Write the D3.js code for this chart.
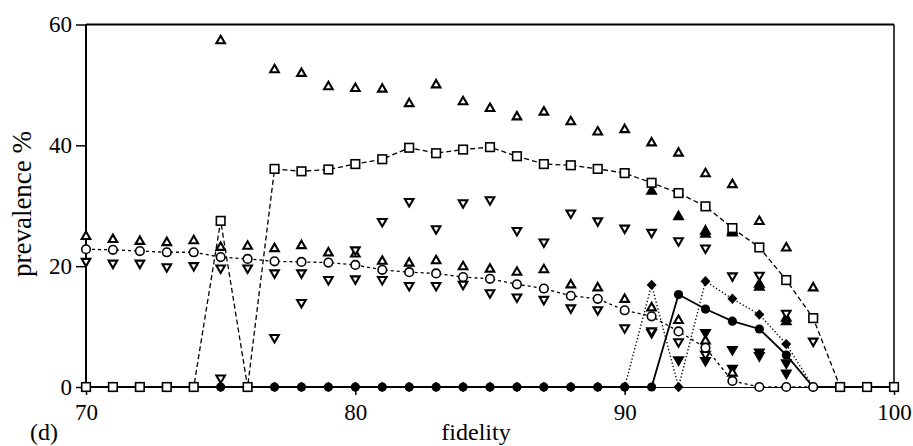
<!DOCTYPE html>
<html>
<head>
<meta charset="utf-8">
<script src="https://cdn.jsdelivr.net/npm/d3@7"></script>
<style>
  body { margin: 0; background: #fff; }
  svg { display: block; }
</style>
</head>
<body>
<svg id="chart"></svg>
<script>
// fidelity values along the x axis
var fidelity = [70,71,72,73,74,75,76,77,78,79,80,81,82,83,84,85,86,87,88,89,90,91,92,93,94,95,96,97,98,99,100];

// open squares, dashed line, with open triangle bounds
var squareMean = [0,0,0,0,0,27.5,0,36.1,35.7,36.0,36.9,37.7,39.6,38.7,39.3,39.7,38.2,36.9,36.7,36.1,35.4,33.8,32.1,29.9,26.3,23.1,17.7,11.4,0,0,0];
var squareHi   = [null,null,null,null,null,57.3,null,52.5,51.9,49.7,49.4,49.3,46.9,50.0,47.2,46.1,44.7,45.5,43.9,42.2,42.6,40.4,38.7,35.3,33.5,27.4,23.0,16.4,null,null,null];
var squareLo   = [null,null,null,null,null,1.5,null,8.2,14.0,null,22.7,27.4,30.7,26.2,30.5,31.0,25.9,24.0,28.8,27.5,26.3,25.6,24.2,23.0,18.4,18.5,12.2,7.6,null,null,null];

// open circles, fine dashed line, with open triangle bounds
var circleMean = [22.8,22.7,22.5,22.3,22.3,21.5,21.2,20.8,20.7,20.6,20.2,19.4,19.0,18.8,18.2,17.9,17.0,16.3,15.1,14.6,12.7,11.7,9.2,6.5,1.0,0,0,0,0,0,0];
var circleHi   = [24.9,24.4,24.1,23.9,24.2,23.1,23.3,22.9,23.4,22.2,22.0,20.8,20.5,20.9,19.9,19.5,19.0,19.4,16.9,16.4,14.5,13.1,11.0,7.6,2.3,null,null,null,null,null,null];
var circleLo   = [20.8,20.5,20.5,19.9,20.1,19.7,19.7,18.9,18.9,17.8,17.9,17.8,16.8,16.8,17.0,15.6,14.9,14.5,13.1,12.8,9.8,9.3,7.5,5.4,null,null,null,null,null,null,null];

// filled diamonds, dotted line, with filled triangle bounds
var diamondMean = [0,0,0,0,0,0,0,0,0,0,0,0,0,0,0,0,0,0,0,0,0,16.9,0,17.5,14.6,12.0,7.1,0,0,0,0];
var diamondHi   = [null,null,null,null,null,null,null,null,null,null,null,null,null,null,null,null,null,null,null,null,null,32.4,null,25.8,25.8,17.0,11.4,null,null,null,null];
var diamondLo   = [null,null,null,null,null,null,null,null,null,null,null,null,null,null,null,null,null,null,null,null,null,9.0,null,9.0,6.2,5.8,4.0,null,null,null,null];

// filled circles, solid line, with filled triangle bounds
var dotMean = [0,0,0,0,0,0,0,0,0,0,0,0,0,0,0,0,0,0,0,0,0,0,15.3,12.9,10.9,9.6,5.3,0,0,0,0];
var dotHi   = [null,null,null,null,null,null,null,null,null,null,null,null,null,null,null,null,null,null,null,null,null,null,28.2,25.3,25.5,16.5,10.8,null,null,null,null];
var dotLo   = [null,null,null,null,null,null,null,null,null,null,null,null,null,null,null,null,null,null,null,null,null,null,4.5,4.4,3.1,5.2,2.3,null,null,null,null];

var yTicks = [0, 20, 40, 60];
var xTicks = [70, 80, 90, 100];

var margin = {top: 24.5, right: 19, bottom: 59, left: 86},
    width = 913 - margin.left - margin.right,
    height = 446 - margin.top - margin.bottom;

var x = d3.scaleLinear().domain([70, 100]).range([0, width]);
var y = d3.scaleLinear().domain([0, 60]).range([height, 0]);

var svg = d3.select("#chart")
    .attr("width", 913)
    .attr("height", 446)
    .append("g")
    .attr("transform", "translate(" + margin.left + "," + margin.top + ")");

var serif = "'Liberation Serif', 'Times New Roman', serif";

// frame: top and right border
svg.append("line").attr("x1", 0).attr("x2", width).attr("y1", 0).attr("y2", 0)
    .attr("stroke", "#000").attr("stroke-width", 2);
svg.append("line").attr("x1", width).attr("x2", width).attr("y1", 0).attr("y2", height)
    .attr("stroke", "#000").attr("stroke-width", 1.5);

// x axis
var xAxis = svg.append("g")
    .attr("transform", "translate(0," + height + ")")
    .call(d3.axisBottom(x).tickValues(xTicks).tickSize(8).tickFormat(d3.format("d")));
xAxis.select(".domain").attr("stroke-width", 1);
xAxis.selectAll(".tick line").attr("stroke-width", 1.5);
xAxis.selectAll("text")
    .attr("y", 33).attr("dy", 0)
    .style("font-family", serif).style("font-size", "23px").attr("fill", "#000");

// y axis
var yAxis = svg.append("g")
    .call(d3.axisLeft(y).tickValues(yTicks).tickSize(10).tickPadding(4));
yAxis.select(".domain").remove();
yAxis.selectAll(".tick line").attr("stroke-width", 1.5);
yAxis.selectAll("text")
    .style("font-family", serif).style("font-size", "23px").attr("fill", "#000");
svg.append("line").attr("x1", 0).attr("x2", 0).attr("y1", 0).attr("y2", height)
    .attr("stroke", "#000").attr("stroke-width", 2);

// axis titles
svg.append("text")
    .attr("transform", "translate(" + (31 - margin.left) + "," + (204 - margin.top) + ") rotate(-90)")
    .attr("text-anchor", "middle")
    .style("font-family", serif).style("font-size", "27px")
    .text("prevalence %");

svg.append("text")
    .attr("x", 476 - margin.left)
    .attr("y", 440 - margin.top)
    .attr("text-anchor", "middle")
    .style("font-family", serif).style("font-size", "24px")
    .text("fidelity");

svg.append("text")
    .attr("x", 30 - margin.left)
    .attr("y", 440 - margin.top)
    .style("font-family", serif).style("font-size", "24px")
    .text("(d)");

function pairs(vals) {
  return fidelity.map(function(f, i) { return {f: f, v: vals[i]}; })
    .filter(function(d) { return d.v !== null; });
}

var line = d3.line()
    .x(function(d) { return x(d.f); })
    .y(function(d) { return y(d.v); });

var triUp = d3.symbol().type(d3.symbolTriangle).size(32);

function drawBounds(vals, up, filled) {
  svg.append("g").selectAll("path")
    .data(pairs(vals))
    .enter().append("path")
    .attr("d", triUp)
    .attr("transform", function(d) {
      return "translate(" + x(d.f) + "," + y(d.v) + ")" + (up ? "" : " rotate(180)");
    })
    .attr("fill", filled ? "#000" : "#fff")
    .attr("stroke", "#000")
    .attr("stroke-width", 2.1);
}

// filled circle series (solid)
svg.append("path").datum(pairs(dotMean))
    .attr("d", line).attr("fill", "none").attr("stroke", "#000").attr("stroke-width", 1.8);
svg.append("g").selectAll("circle")
    .data(pairs(dotMean)).enter().append("circle")
    .attr("cx", function(d) { return x(d.f); })
    .attr("cy", function(d) { return y(d.v); })
    .attr("r", 4.6).attr("fill", "#000");

// filled diamond series (dotted)
svg.append("path").datum(pairs(diamondMean))
    .attr("d", line).attr("fill", "none").attr("stroke", "#000")
    .attr("stroke-width", 1.4).attr("stroke-dasharray", "1.3,2.2");
svg.append("g").selectAll("path")
    .data(pairs(diamondMean)).enter().append("path")
    .attr("d", "M0,-5.2L5,0L0,5.2L-5,0Z")
    .attr("transform", function(d) { return "translate(" + x(d.f) + "," + y(d.v) + ")"; })
    .attr("fill", "#000");

// bounds
drawBounds(dotHi, true, true);
drawBounds(dotLo, false, true);
drawBounds(diamondHi, true, true);
drawBounds(diamondLo, false, true);
drawBounds(circleHi, true, false);
drawBounds(circleLo, false, false);
drawBounds(squareHi, true, false);
drawBounds(squareLo, false, false);

// open circle series (fine dashed)
svg.append("path").datum(pairs(circleMean))
    .attr("d", line).attr("fill", "none").attr("stroke", "#000")
    .attr("stroke-width", 1.3).attr("stroke-dasharray", "3,3");
svg.append("g").selectAll("circle")
    .data(pairs(circleMean)).enter().append("circle")
    .attr("cx", function(d) { return x(d.f); })
    .attr("cy", function(d) { return y(d.v); })
    .attr("r", 4.3).attr("fill", "#fff").attr("stroke", "#000").attr("stroke-width", 1.6);

// open square series (dashed)
svg.append("path").datum(pairs(squareMean))
    .attr("d", line).attr("fill", "none").attr("stroke", "#000")
    .attr("stroke-width", 1.3).attr("stroke-dasharray", "5,3");
svg.append("g").selectAll("rect")
    .data(pairs(squareMean)).enter().append("rect")
    .attr("x", function(d) { return x(d.f) - 4.3; })
    .attr("y", function(d) { return y(d.v) - 4.3; })
    .attr("width", 8.6).attr("height", 8.6)
    .attr("fill", "#fff").attr("stroke", "#000").attr("stroke-width", 1.6);
</script>
</body>
</html>
